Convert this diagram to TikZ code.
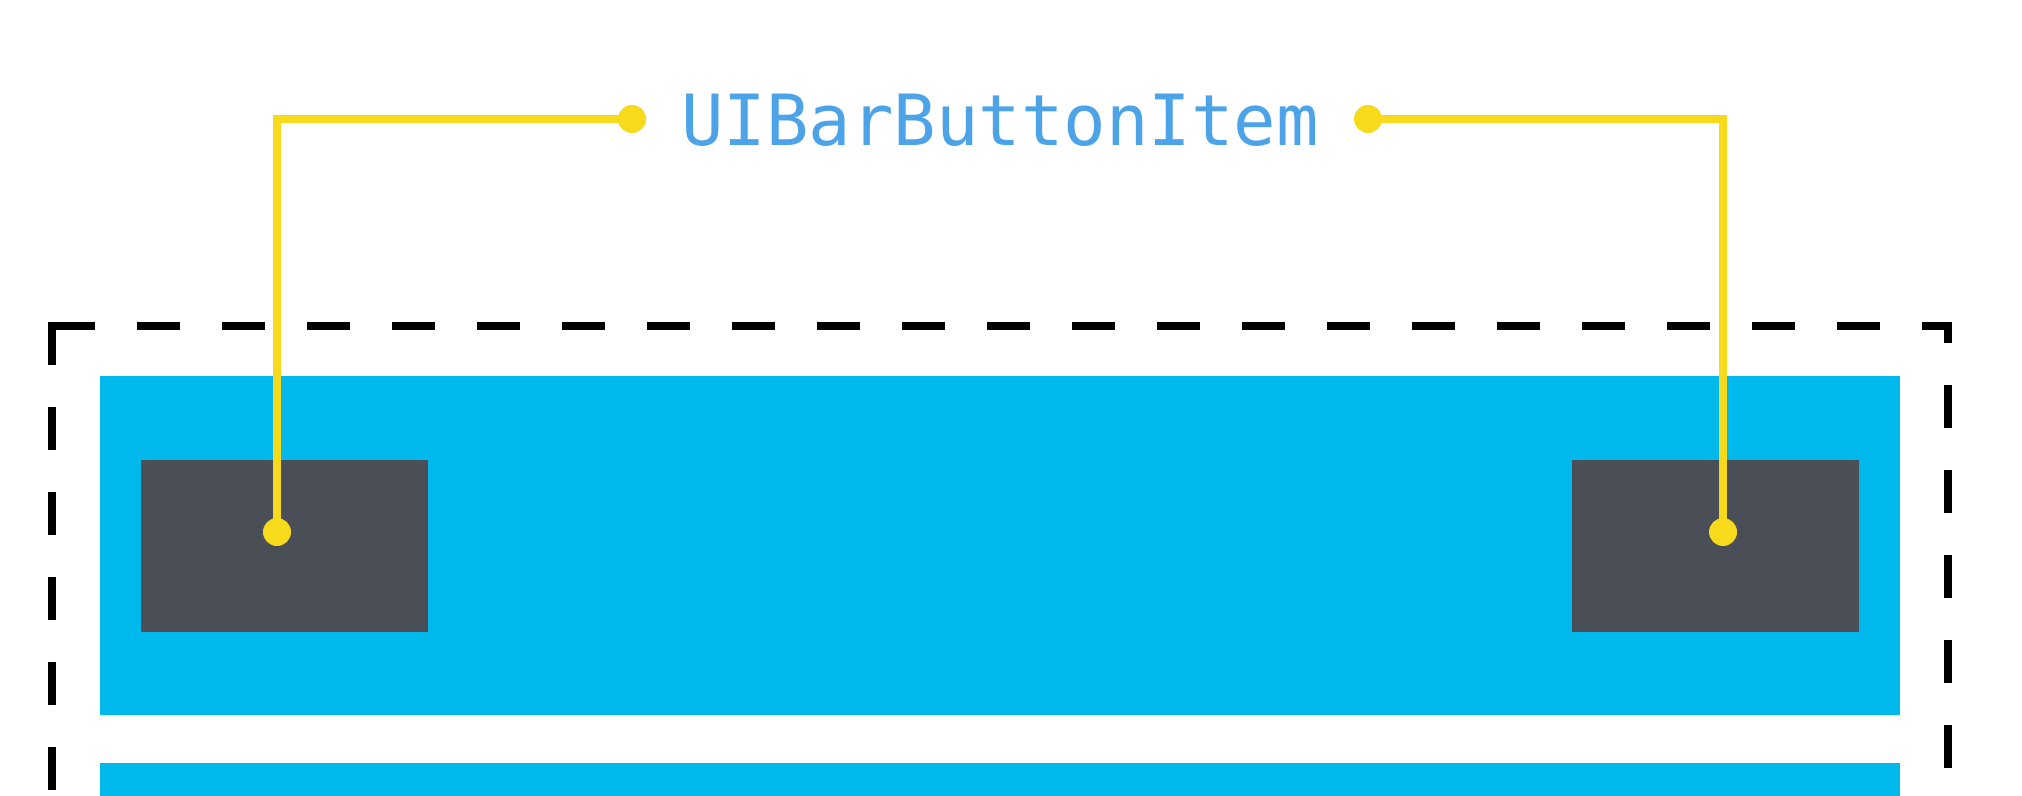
\documentclass[tikz,border=0pt]{standalone}
\usepackage{fontspec}
\newfontfamily\labelmono{DejaVu Sans Mono}
\definecolor{labelblue}{HTML}{4DA3E8}
\definecolor{barblue}{HTML}{00B9EC}
\definecolor{btngray}{HTML}{4A4F57}
\definecolor{pinyellow}{HTML}{F7DA1C}
\tikzset{
  bar/.style={fill=barblue, draw=none, inner sep=0pt, minimum width=900pt, minimum height=169.5pt},
  btn/.style={fill=btngray, draw=none, inner sep=0pt, minimum width=143.5pt, minimum height=86pt},
  pin/.style={circle, fill=pinyellow, draw=none, inner sep=0pt, minimum size=14pt},
  pinline/.style={draw=pinyellow, line width=4pt, line join=miter},
  frame/.style={draw=black, line width=3.6pt, dash pattern=on 21.5pt off 21pt},
  lbl/.style={text=labelblue, inner sep=0pt, font=\fontsize{35.3}{40}\selectfont\labelmono}
}
\begin{document}
\begin{tikzpicture}[x=0.5pt, y=-0.5pt]
\useasboundingbox (0,0) rectangle (2022,796);
\clip (0,0) rectangle (2022,796);
\fill[white] (0,0) rectangle (2022,796);

% dashed outer frame
\draw[frame] (52,322.4) -- (52,830);
\draw[frame] (52,326) -- (1948,326) -- (1948,830);

% bars
\node[bar] (topbar) at (1000,545.5) {};
\fill[barblue] (100,763) rectangle (1900,830);

% buttons
\node[btn] (leftbtn) at (284.5,546) {};
\node[btn] (rightbtn) at (1715.5,546) {};

% label
\node[lbl, anchor=base] (label) at (1000,146) {UIBarButtonItem};

% pin coordinates
\coordinate (lt) at (632,119);
\coordinate (lb) at (277,532);
\coordinate (rt) at (1368,119);
\coordinate (rb) at (1723,532);

\draw[pinline] (lt) -| (lb);
\draw[pinline] (rt) -| (rb);

\node[pin] (ltdot) at (lt) {};
\node[pin] (lbdot) at (lb) {};
\node[pin] (rtdot) at (rt) {};
\node[pin] (rbdot) at (rb) {};
\end{tikzpicture}
\end{document}
